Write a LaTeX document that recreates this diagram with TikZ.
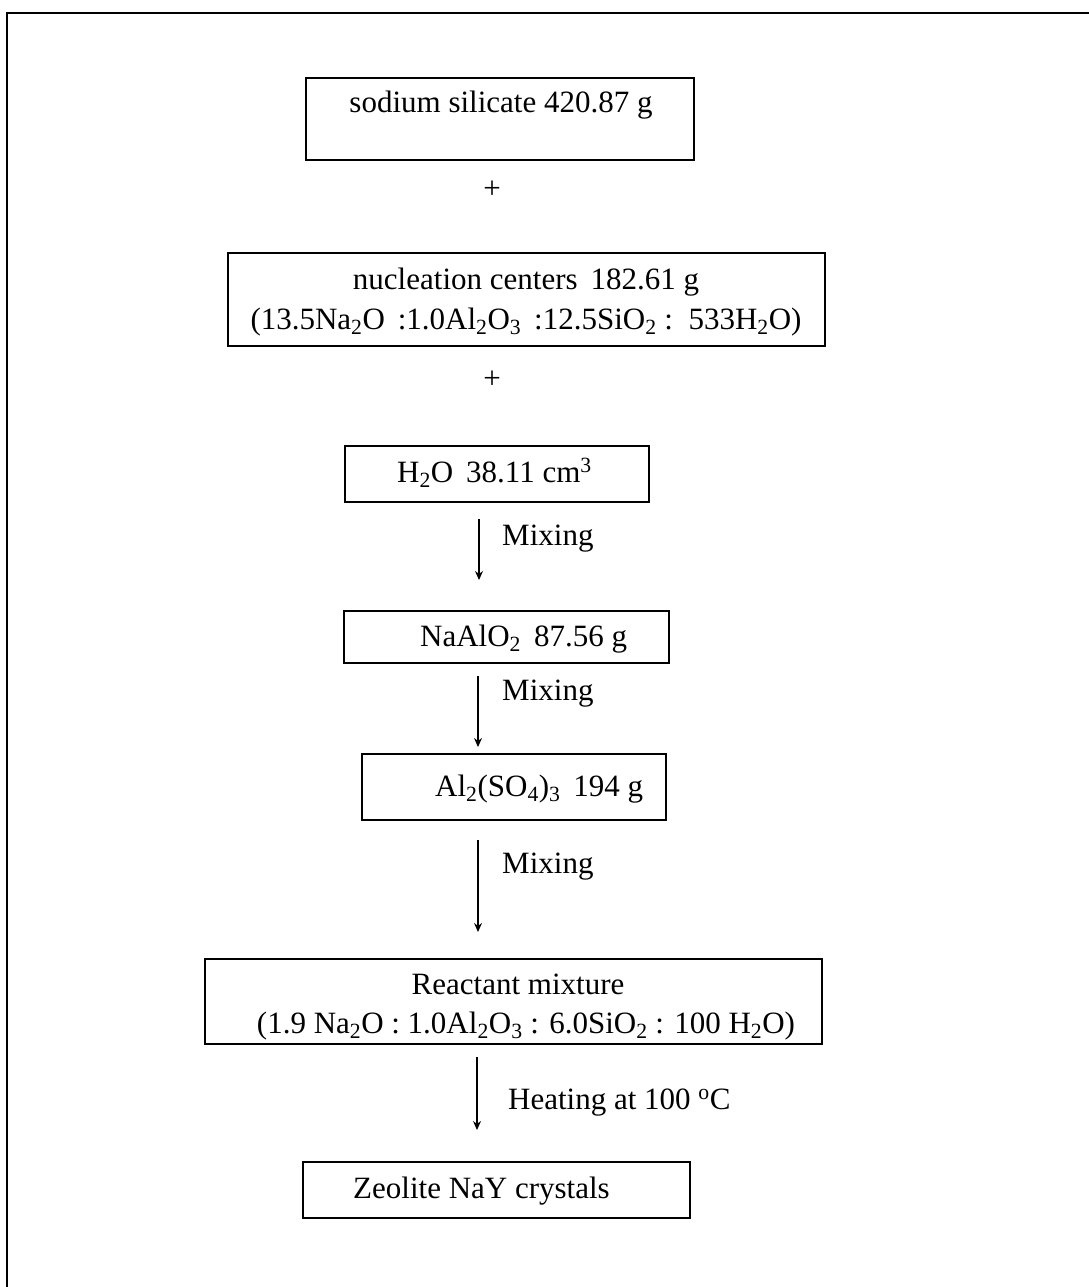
\documentclass[tikz,border=0pt]{standalone}
\usepackage{fontspec}
\setmainfont{Liberation Serif}
\usetikzlibrary{arrows.meta}
\begin{document}
\begin{tikzpicture}[x=1pt,y=-1pt,
  box/.style={draw,line width=1.3pt,inner sep=0pt},
  txt/.style={inner sep=0pt,anchor=base,font=\fontsize{31}{37}\selectfont},
  arr/.style={line width=1.1pt,-{Stealth[length=9pt,width=8pt]}}]
\useasboundingbox (0,0) rectangle (1088,1287);
\draw[line width=1.5pt] (7,13) rectangle (1200,1400);
% boxes
\node[box,minimum width=388pt,minimum height=82pt] (b1) at (500,119) {};
\node[txt] (t1) at (501,113) {sodium silicate 420.87 g};
\node[txt] (p1) at (492,198) {+};
\node[box,minimum width=597pt,minimum height=93pt] (b2) at (526.5,299.5) {};
\node[txt] (t2a) at (526,289) {nucleation centers \,182.61 g};
\node[txt] (t2b) at (526,329) {(13.5Na\textsubscript{2}O \,:1.0Al\textsubscript{2}O\textsubscript{3} \,:12.5SiO\textsubscript{2} : \,533H\textsubscript{2}O)};
\node[txt] (p2) at (492,388) {+};
\node[box,minimum width=304pt,minimum height=56pt] (b3) at (497,474) {};
\node[txt,anchor=base west] (t3) at (397,482) {H\textsubscript{2}O \,38.11 cm\textsuperscript{3}};
\coordinate (a1s) at (479,519);
\coordinate (a1e) at (479,580);
\draw[arr] (a1s) -- (a1e);
\node[txt,anchor=base west] (m1) at (502,545) {Mixing};
\node[box,minimum width=325pt,minimum height=52pt] (b4) at (506.5,637) {};
\node[txt,anchor=base west] (t4) at (420,646) {NaAlO\textsubscript{2} \,87.56 g};
\coordinate (a2s) at (478,676);
\coordinate (a2e) at (478,747);
\draw[arr] (a2s) -- (a2e);
\node[txt,anchor=base west] (m2) at (502,700) {Mixing};
\node[box,minimum width=304pt,minimum height=66pt] (b5) at (514,787) {};
\node[txt,anchor=base west] (t5) at (435,796) {Al\textsubscript{2}(SO\textsubscript{4})\textsubscript{3} \,194 g};
\coordinate (a3s) at (478,840);
\coordinate (a3e) at (478,932);
\draw[arr] (a3s) -- (a3e);
\node[txt,anchor=base west] (m3) at (502,873) {Mixing};
\node[box,minimum width=617pt,minimum height=85pt] (b6) at (513.5,1001.5) {};
\node[txt] (t6a) at (518,994) {Reactant mixture};
\node[txt] (t6b) at (526,1033) {(1.9 Na\textsubscript{2}O : 1.0Al\textsubscript{2}O\textsubscript{3} : 6.0SiO\textsubscript{2} : 100 H\textsubscript{2}O)};
\coordinate (a4s) at (477,1057);
\coordinate (a4e) at (477,1130);
\draw[arr] (a4s) -- (a4e);
\node[txt,anchor=base west] (m4) at (508,1109) {Heating at 100 \textsuperscript{o}C};
\node[box,minimum width=387pt,minimum height=56pt] (b7) at (496.5,1190) {};
\node[txt,anchor=base west] (t7) at (353,1198) {Zeolite NaY crystals};
\end{tikzpicture}
\end{document}
